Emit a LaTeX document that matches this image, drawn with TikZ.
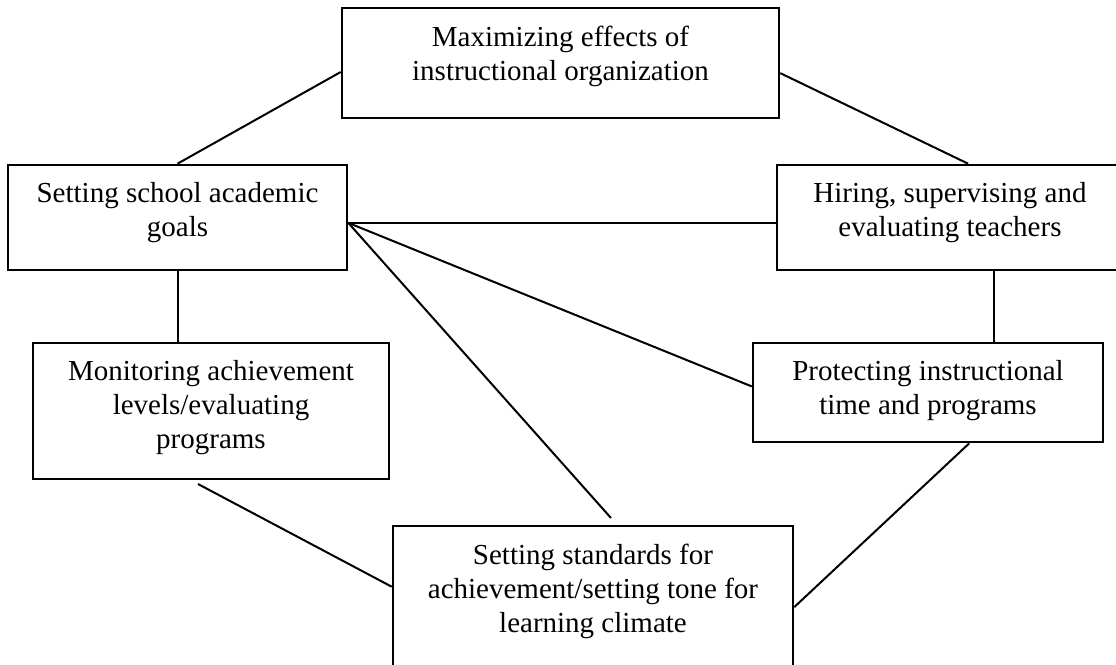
\documentclass[tikz,border=0pt]{standalone}
\usepackage{fontspec}
\setmainfont{Liberation Serif}
\usetikzlibrary{calc}
\usetikzlibrary{fit}
\usetikzlibrary{positioning}

\begin{document}
\begin{tikzpicture}[-,x=0.5pt,y=-0.5pt,line width=1pt,
                    every node/.style={font=\fontsize{14.5}{17}\selectfont}]
  \tikzstyle{box}=[draw=black, line width=1.3pt, inner sep=0pt]
  \tikzstyle{txt}=[align=center, inner sep=0pt, anchor=north]
  \useasboundingbox (0,0) rectangle (1116,665);
  \clip (0,0) rectangle (1116,665);
  % boxes
  \node[box, fit={(342,8) (779,118)}]    (org)     {};
  \node[box, fit={(8,165) (347,270)}]    (goals)   {};
  \node[box, fit={(777,165) (1123,270)}] (hire)    {};
  \node[box, fit={(33,343) (389,479)}]   (monitor) {};
  \node[box, fit={(753,343) (1103,442)}] (protect) {};
  \node[box, fit={(393,526) (793,680)}]  (climate) {};
  % texts
  \node[txt] (org-t)     at ([yshift=-9pt]org.north)     {Maximizing effects of\\instructional organization};
  \node[txt] (goals-t)   at ([yshift=-9pt]goals.north)   {Setting school academic\\goals};
  \node[txt] (hire-t)    at ([yshift=-9pt]hire.north)    {Hiring, supervising and\\evaluating teachers};
  \node[txt] (monitor-t) at ([yshift=-9pt]monitor.north) {Monitoring achievement\\levels/evaluating\\programs};
  \node[txt] (protect-t) at ([yshift=-9pt]protect.north) {Protecting instructional\\time and programs};
  \node[txt] (climate-t) at ([yshift=-9pt]climate.north) {Setting standards for\\achievement/setting tone for\\learning climate};
  % connectors
  \coordinate (hub)   at ($(goals.north east)!0.55!(goals.south east)$);
  \coordinate (p-up)  at ($(protect.north west)!0.686!(protect.north east)$);
  \coordinate (tip)   at (611,518);
  \coordinate (m-end) at (198,484);
  \path (goals.north) edge ($(org.north west)!0.58!(org.south west)$)
        ($(org.north east)!0.59!(org.south east)$) edge ($(hire.north west)!0.552!(hire.north east)$)
        (hub) edge ($(hire.north west)!0.55!(hire.south west)$)
        (hub) edge ($(protect.north west)!0.44!(protect.south west)$)
        (hub) edge (tip)
        (goals.south) edge (goals.south |- monitor.north)
        (p-up) edge (p-up |- hire.south)
        (m-end) edge ($(climate.north west)!0.396!(climate.south west)$)
        ($(protect.south west)!0.617!(protect.south east)$) edge ($(climate.north east)!0.526!(climate.south east)$);
\end{tikzpicture}
\end{document}
